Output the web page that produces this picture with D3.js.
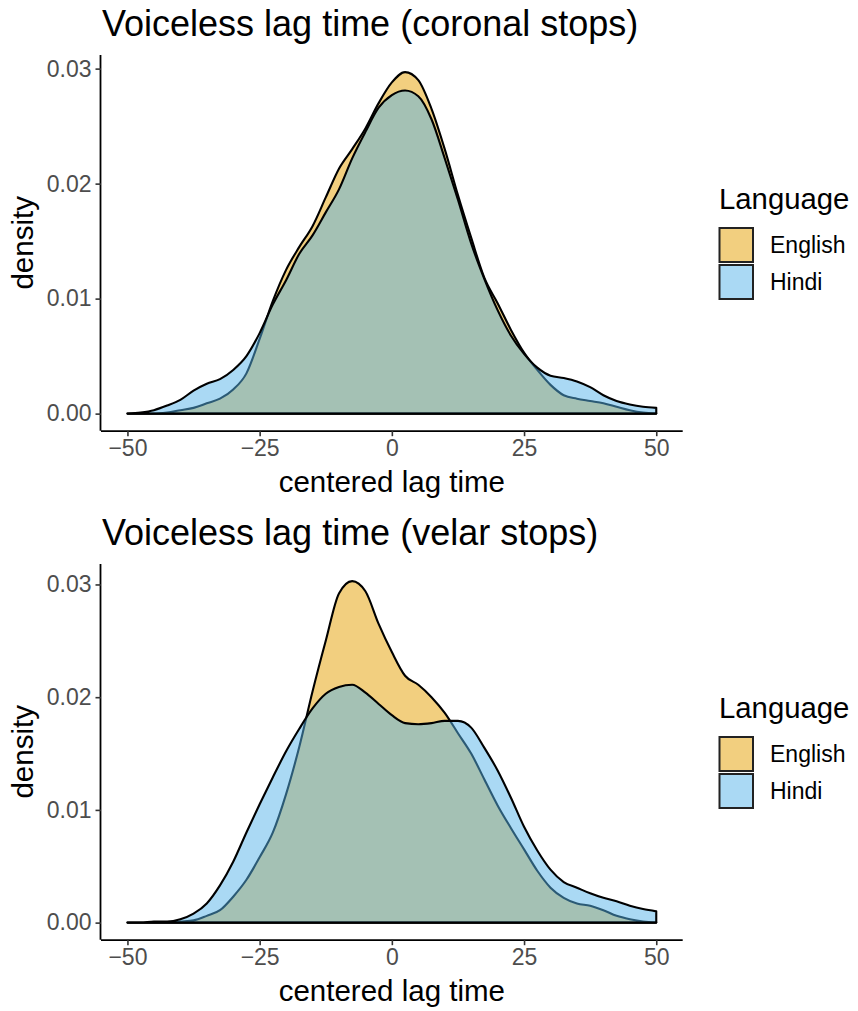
<!DOCTYPE html>
<html>
<head>
<meta charset="utf-8">
<script src="https://cdn.jsdelivr.net/npm/d3@7"></script>
<style>
  body { margin: 0; background: #fff; }
  svg { display: block; font-family: "Liberation Sans", Arial, Helvetica, sans-serif; }
</style>
</head>
<body>
<svg id="chart" width="858" height="1011"></svg>
<script>
// ---------- DATA ----------
const xGrid = [-50,-47.5,-45,-42.5,-40,-37.5,-35,-32.5,-30,-27.5,-25,-22.5,-20,-17.5,-15,-12.5,-10,-7.5,-5,-2.5,0,2.5,5,7.5,10,12.5,15,17.5,20,22.5,25,27.5,30,32.5,35,37.5,40,42.5,45,47.5,50];

const coronalEnglish = [0,0,0,0.0001,0.0003,0.0005,0.0009,0.0013,0.0021,0.0035,0.0065,0.0098,0.0125,0.0145,0.0163,0.0188,0.0213,0.0230,0.0248,0.0270,0.0288,0.0297,0.0290,0.0265,0.0230,0.0190,0.0153,0.0118,0.0096,0.0073,0.0053,0.0038,0.0025,0.0016,0.0013,0.0011,0.0009,0.0006,0.0003,0.0001,0.00003];
const coronalHindi = [0,0.0001,0.0003,0.0007,0.0012,0.0020,0.0026,0.0030,0.0038,0.0050,0.0070,0.0095,0.0116,0.0139,0.0155,0.0175,0.0195,0.0222,0.0245,0.0266,0.0277,0.0281,0.0276,0.0256,0.0222,0.0186,0.0148,0.0117,0.0090,0.0068,0.0052,0.0040,0.0033,0.0031,0.0028,0.0023,0.0016,0.0011,0.0008,0.0006,0.0005];

const velarEnglish = [0,0,0,0,0.0001,0.0002,0.0006,0.0011,0.0023,0.0038,0.0058,0.0080,0.0114,0.0156,0.0205,0.0250,0.0292,0.0303,0.0294,0.0265,0.0240,0.0219,0.0211,0.0200,0.0186,0.0168,0.0150,0.0127,0.0104,0.0084,0.0065,0.0046,0.0031,0.0022,0.0017,0.0015,0.0011,0.0006,0.0003,0.0001,0.00003];
const velarHindi = [0,0,0.0001,0.0001,0.0003,0.0008,0.0017,0.0033,0.0054,0.0080,0.0105,0.0129,0.0152,0.0172,0.0190,0.0203,0.0209,0.0211,0.0204,0.0194,0.0184,0.0177,0.0176,0.0177,0.0179,0.0179,0.0173,0.0155,0.0135,0.0111,0.0085,0.0064,0.0047,0.0036,0.0031,0.0026,0.0022,0.0019,0.0015,0.0012,0.0010];

const languages = ["English", "Hindi"];
const languageColors = ["#E69F00", "#56B4E9"];
const panelTitles = ["Voiceless lag time (coronal stops)", "Voiceless lag time (velar stops)"];
const xTicks = [-50, -25, 0, 25, 50];
const yTicks = [0, 0.01, 0.02, 0.03];
const xLabel = "centered lag time";
const yLabel = "density";
const legendTitle = "Language";

// ---------- DRAW ----------
const svg = d3.select("#chart");
const panels = [
  { title: panelTitles[0], series: [coronalEnglish, coronalHindi], offset: 0 },
  { title: panelTitles[1], series: [velarEnglish, velarHindi], offset: 509 }
];

const L = 101, R = 682.7, T = 55, B = 430.7;
const fmtMinus = d => String(d).replace("-", "\u2212");

panels.forEach(p => {
  const g = svg.append("g").attr("transform", `translate(0,${p.offset})`);
  const maxY = d3.max(p.series.flat());
  const x = d3.scaleLinear().domain([-55, 55]).range([L, R]);
  const y = d3.scaleLinear().domain([-0.05 * maxY, 1.05 * maxY]).range([B, T]);

  // densities
  const area = d3.area()
    .x((d, i) => x(xGrid[i]))
    .y0(y(0))
    .y1(d => y(d))
    .curve(d3.curveMonotoneX);

  p.series.forEach((s, k) => {
    g.append("path")
      .attr("d", area(s))
      .attr("fill", languageColors[k])
      .attr("fill-opacity", 0.5)
      .attr("stroke", "#000")
      .attr("stroke-width", 2.1)
      .attr("stroke-linejoin", "round");
  });

  // x axis
  const xa = g.append("g").attr("transform", `translate(0,${B})`)
    .call(d3.axisBottom(x).tickValues(xTicks).tickSize(5.5).tickPadding(3).tickFormat(fmtMinus));
  xa.select(".domain").attr("stroke", "#000").attr("stroke-width", 1.8)
    .attr("d", `M${L},0.5H${R}`);
  xa.selectAll(".tick line").attr("stroke", "#333").attr("stroke-width", 1.6);
  xa.selectAll(".tick text").attr("fill", "#4D4D4D").attr("font-size", 23)
    .attr("font-family", "Liberation Sans, Arial, sans-serif");

  // y axis
  const ya = g.append("g").attr("transform", `translate(${L},0)`)
    .call(d3.axisLeft(y).tickValues(yTicks).tickSize(5.5).tickPadding(4).tickFormat(d3.format(".2f")));
  ya.select(".domain").attr("stroke", "#000").attr("stroke-width", 1.8)
    .attr("d", `M-0.5,${T}V${B}`);
  ya.selectAll(".tick line").attr("stroke", "#333").attr("stroke-width", 1.6);
  ya.selectAll(".tick text").attr("fill", "#4D4D4D").attr("font-size", 23)
    .attr("font-family", "Liberation Sans, Arial, sans-serif");

  // title
  g.append("text").attr("x", 102).attr("y", 36)
    .attr("font-size", 36).attr("fill", "#000").text(p.title);

  // axis titles
  g.append("text").attr("x", (L + R) / 2).attr("y", 492)
    .attr("text-anchor", "middle").attr("font-size", 29.5).attr("fill", "#000").text(xLabel);
  g.append("text").attr("transform", `translate(33,${(T + B) / 2}) rotate(-90)`)
    .attr("text-anchor", "middle").attr("font-size", 29.5).attr("fill", "#000").text(yLabel);

  // legend
  const lg = g.append("g");
  lg.append("text").attr("x", 719).attr("y", 208.5).attr("font-size", 29.3).attr("fill", "#000").text(legendTitle);
  languages.forEach((lang, k) => {
    const ky = 228 + k * 37;
    lg.append("rect").attr("x", 719.5).attr("y", ky).attr("width", 33.5).attr("height", 34)
      .attr("fill", languageColors[k]).attr("fill-opacity", 0.5)
      .attr("stroke", "#222").attr("stroke-width", 2);
    lg.append("text").attr("x", 770).attr("y", ky + 17).attr("dy", "0.36em")
      .attr("font-size", 23).attr("fill", "#000").text(lang);
  });
});
</script>
</body>
</html>
